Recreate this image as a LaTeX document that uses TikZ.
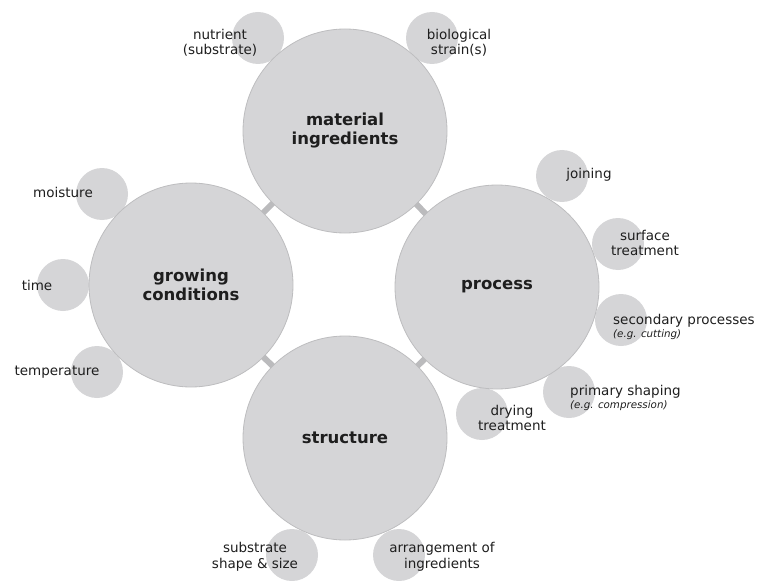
\documentclass[tikz,border=0pt]{standalone}
\usepackage{fontspec}
\setmainfont{DejaVu Sans}
\usetikzlibrary{positioning}

\definecolor{disc}{HTML}{D5D5D7}
\definecolor{rim}{HTML}{BDBDBF}
\definecolor{bar}{HTML}{BBBBBD}
\definecolor{ink}{HTML}{1E1E1E}

\begin{document}
\begin{tikzpicture}[
x=1pt, y=-1pt,
bignode/.style={circle, draw=rim, line width=0.8pt, fill=disc, minimum size=204pt,
inner sep=0pt, outer sep=0pt, align=center, text=ink,
font=\fontsize{16.5}{19}\selectfont\bfseries},
smallnode/.style={circle, fill=disc, minimum size=52pt, inner sep=0pt},
textnode/.style={align=center, text=ink, inner sep=0pt,
font=\fontsize{13.5}{15.5}\selectfont},
notenode/.style={text=ink, inner sep=0pt, font=\fontsize{10.3}{12}\selectfont\itshape},
linkline/.style={draw=bar, line width=6pt}
]
\useasboundingbox (0,0) rectangle (759,580);

%Small circles
\node[smallnode] (nutrient) at (258,38) {};
\node[smallnode] (strain) at (432,38) {};
\node[smallnode] (moisture) at (102,194) {};
\node[smallnode] (time) at (63,285) {};
\node[smallnode] (temperature) at (97,372) {};
\node[smallnode] (joining) at (562,176) {};
\node[smallnode] (surface) at (618,244) {};
\node[smallnode] (secondary) at (621,320) {};
\node[smallnode] (primary) at (569,392) {};
\node[smallnode] (drying) at (482,414) {};
\node[smallnode] (shape) at (292,555) {};
\node[smallnode] (arrangement) at (399,555) {};

%Big circles
\node[bignode] (material) at (345,131) {material\\ingredients};
\node[bignode] (growing) at (191,285) {growing\\conditions};
\node[bignode] (process) at (497,287) {process};
\node[bignode] (structure) at (345,438) {structure};

%Lines
\draw[linkline] (material) -- (growing);
\draw[linkline] (material) -- (process);
\draw[linkline] (growing) -- (structure);
\draw[linkline] (process) -- (structure);

%Labels
\node[textnode] (nutrientlbl) at (220,43) {nutrient\\(substrate)};
\node[textnode] (strainlbl) at (459,43) {biological\\strain(s)};
\node[textnode] (moisturelbl) at (63,192) {moisture};
\node[textnode] (timelbl) at (37,285) {time};
\node[textnode] (temperaturelbl) at (57,372) {temperature};
\node[textnode] (joininglbl) at (589,175) {joining};
\node[textnode] (surfacelbl) at (645,243) {surface\\treatment};
\node[textnode, anchor=west] (secondarylbl) at (613,321) {secondary processes};
\node[notenode, below right=2pt and 0pt of secondarylbl.south west, anchor=north west] (secondarynote) {(e.g. cutting)};
\node[textnode, anchor=west] (primarylbl) at (570,392) {primary shaping};
\node[notenode, below right=2pt and 0pt of primarylbl.south west, anchor=north west] (primarynote) {(e.g. compression)};
\node[textnode] (dryinglbl) at (512,418) {drying\\treatment};
\node[textnode] (shapelbl) at (255,557) {substrate\\shape \& size};
\node[textnode] (arrangementlbl) at (442,557) {arrangement of\\ingredients};

\end{tikzpicture}
\end{document}
